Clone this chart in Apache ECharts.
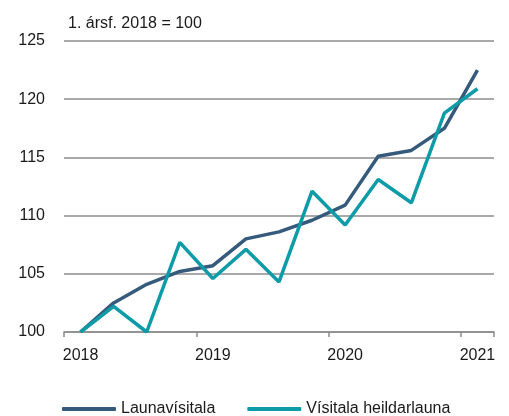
<!DOCTYPE html>
<html><head><meta charset="utf-8">
<script src="https://cdn.jsdelivr.net/npm/echarts@6/dist/echarts.min.js"></script>
<style>html,body{margin:0;padding:0;background:#fff}#c{width:509px;height:416px}</style>
</head><body><div id="c"></div>
<script>
const categories = ['2018','','','','2019','','','','2020','','','','2021'];
const launavisitala = [100, 102.5, 104.1, 105.2, 105.7, 108.0, 108.6, 109.6, 110.9, 115.1, 115.6, 117.5, 122.5];
const heildarlaun = [100, 102.2, 100.0, 107.7, 104.6, 107.1, 104.3, 112.1, 109.2, 113.1, 111.1, 118.8, 120.9];
const seriesNames = ['Launavísitala', 'Vísitala heildarlauna'];
const colors = ['#355a7c', '#0c9ba7'];
const font = 'Liberation Sans';
const chart = echarts.init(document.getElementById('c'));
chart.setOption({
  animation: false,
  textStyle: {fontFamily: font},
  title: {text: '1. ársf. 2018 = 100', left: 63, top: 11,
    textStyle: {fontFamily: font, fontSize: 16, fontWeight: 'normal', color: '#1a1a1a'}},
  grid: {left: 64, right: 15, top: 41, bottom: 84},
  xAxis: {type: 'category', data: categories, boundaryGap: true,
    axisLine: {lineStyle: {color: '#8c8c8c', width: 1.5}},
    axisTick: {show: true, interval: 3, length: 5, lineStyle: {color: '#8c8c8c', width: 1.5}},
    axisLabel: {interval: 3, color: '#1a1a1a', fontSize: 16, margin: 16, fontFamily: font}},
  yAxis: {type: 'value', min: 100, max: 125, interval: 5,
    axisLine: {show: false}, axisTick: {show: false},
    axisLabel: {color: '#1a1a1a', fontSize: 16, margin: 19, fontFamily: font},
    splitLine: {lineStyle: {color: '#8c8c8c', width: 1.5}}},
  legend: {top: 396, left: 57, itemWidth: 54, itemHeight: 4, itemGap: 32,
    icon: 'roundRect',
    textStyle: {fontSize: 16, color: '#1a1a1a', fontFamily: font}, data: seriesNames},
  series: [
    {name: seriesNames[0], type: 'line', data: launavisitala, symbol: 'none',
      lineStyle: {color: colors[0], width: 3.5}, itemStyle: {color: colors[0]}},
    {name: seriesNames[1], type: 'line', data: heildarlaun, symbol: 'none',
      lineStyle: {color: colors[1], width: 3.5}, itemStyle: {color: colors[1]}}
  ]
});
</script></body></html>
